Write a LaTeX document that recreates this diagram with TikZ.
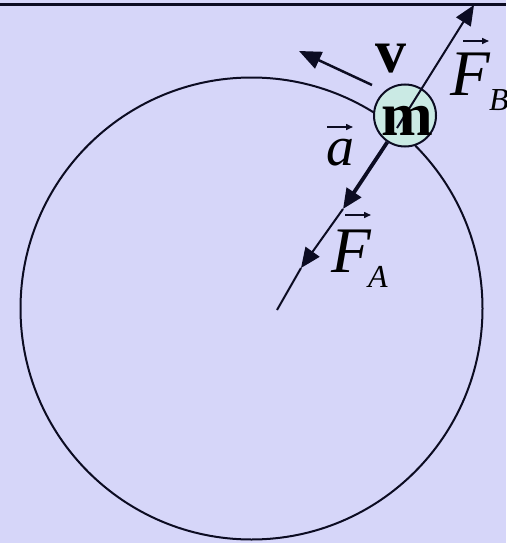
\documentclass[tikz,border=0pt]{standalone}
\usepackage{fontspec}
\setmainfont{Liberation Serif}
\usetikzlibrary{arrows.meta}
\definecolor{bgc}{RGB}{214,214,249}
\definecolor{ink}{RGB}{12,12,34}
\definecolor{massfill}{RGB}{202,234,228}
\tikzset{
  ln/.style={draw=ink, line width=2pt},
  thickln/.style={draw=ink, line width=3.8pt},
  bighead/.style={-{Triangle[length=20pt,width=17pt]}},
  vecarrow/.style={draw=ink, line width=1.5pt, -{Triangle[length=7pt,width=6pt]}},
  lbl/.style={inner sep=0pt, text=black, font=\fontsize{65}{70}\selectfont\itshape},
  sub/.style={inner sep=0pt, text=black, font=\fontsize{32}{34}\selectfont\itshape},
  boldlbl/.style={inner sep=0pt, text=black, font=\fontsize{62}{66}\selectfont\bfseries},
}
\begin{document}
\begin{tikzpicture}[x=1pt,y=-1pt]
\useasboundingbox (0,0) rectangle (506,543);
\fill[bgc] (0,0) rectangle (506,543);
% top border line
\draw[ink, line width=3pt] (0,5) -- (506,5);
% orbit
\node[circle, ln, minimum size=462pt, inner sep=0pt] (orbit) at (251.5,308.5) {};
% key points
\coordinate (O) at (277,310);
\coordinate (FBtip) at (474,5);
\coordinate (FBstart) at (397,128);
\coordinate (atip) at (343,209);
\coordinate (FAtip) at (301,268);
\coordinate (vtail) at (372,85);
\coordinate (vtip) at (299,51);
% mass
\node[circle, draw=ink, line width=2pt, fill=massfill, minimum size=62pt, inner sep=0pt] (mass) at (405,115.5) {};
% radial line and forces
\draw[ln] (O) -- (FAtip);
\draw[ln, bighead] (atip) -- (FAtip);
\draw[thickln, bighead] (mass) -- (atip);
\draw[ln, bighead] (FBstart) -- (FBtip);
% velocity
\draw[ln, line width=2.5pt, -{Triangle[length=22pt,width=18pt]}] (vtail) -- (vtip);
% mass label
\node[boldlbl, anchor=base] (mtext) at (407,135) {m};
\node[boldlbl, anchor=base] (vtext) at (391,72) {v};
% F_B
\node[lbl, anchor=base] (FB) at (470,95) {F};
\node[sub, anchor=base west] (FBsub) at (489,110) {B};
\coordinate (FBa1) at (463,41);
\coordinate (FBa2) at (489,41);
\draw[vecarrow] (FBa1) -- (FBa2);
% F_A
\node[lbl, anchor=base] (FA) at (351,272) {F};
\node[sub, anchor=base] (FAsub) at (378,287) {A};
\coordinate (FAa1) at (345,215);
\coordinate (FAa2) at (371,215);
\draw[vecarrow] (FAa1) -- (FAa2);
% a
\node[lbl, anchor=base, font=\fontsize{56}{60}\selectfont\itshape] (atext) at (340,165) {a};
\coordinate (aa1) at (327,127);
\coordinate (aa2) at (353,127);
\draw[vecarrow] (aa1) -- (aa2);
\end{tikzpicture}
\end{document}
